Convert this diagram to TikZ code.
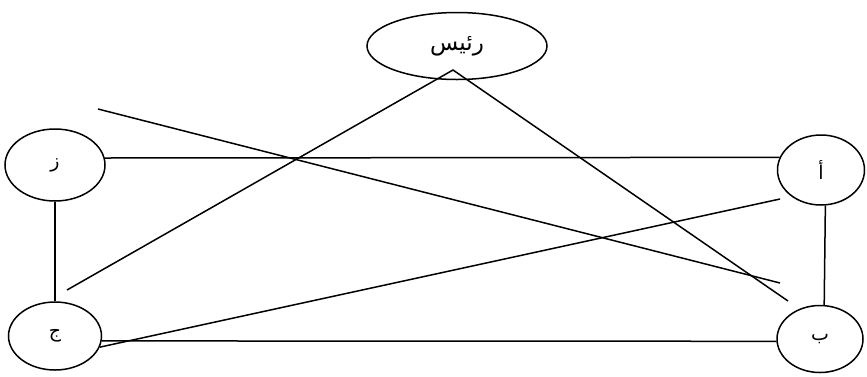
\documentclass[tikz,border=0pt]{standalone}
\usepackage{fontspec}
\usetikzlibrary{shapes.geometric}
\TeXXeTstate=1
\newfontfamily\arabicfont[Script=Arabic]{DejaVu Sans}
\tikzset{
member/.style={draw, ellipse, line width=1.5pt, inner sep=0pt, minimum width=90pt, minimum height=68pt, font=\arabicfont\fontsize{19}{22}\selectfont},
chief/.style={member, minimum width=180pt, minimum height=67pt, font=\arabicfont\fontsize{23}{26}\selectfont},
link/.style={line width=1.5pt}
}
\begin{document}
\begin{tikzpicture}[x=1pt,y=-1pt]
\useasboundingbox (0,0) rectangle (867,376);
\node[chief] (chief) at (457,46) {\beginR رئيس\endR};
\node[member, minimum width=100pt, minimum height=72pt] (zay) at (55,165) {\beginR ز\endR};
\node[member, minimum width=87pt, minimum height=70pt] (alif) at (821,170) {\beginR أ\endR};
\node[member, minimum width=93pt, minimum height=68pt] (jim) at (55,336) {\beginR ج\endR};
\node[member, minimum width=86pt, minimum height=67pt] (ba) at (820,339) {\beginR ب\endR};
% free ends of the crossing lines
\coordinate (apex) at (453,70);
\coordinate (leftend) at (67,290);
\coordinate (rightend) at (788,301);
\coordinate (crossa) at (98,109);
\coordinate (crossb) at (780,283);
\coordinate (upend) at (780,199);
\draw[link] (zay.8) -- (alif.163);
\draw[link] (jim.-6) -- (ba.183);
\draw[link] (zay.south) -- (jim.north);
\draw[link] (alif.-83) -- (ba.83);
\draw[link] (leftend) -- (apex) -- (rightend);
\draw[link] (crossa) -- (crossb);
\draw[link] (jim.-14) -- (upend);
\end{tikzpicture}
\end{document}
